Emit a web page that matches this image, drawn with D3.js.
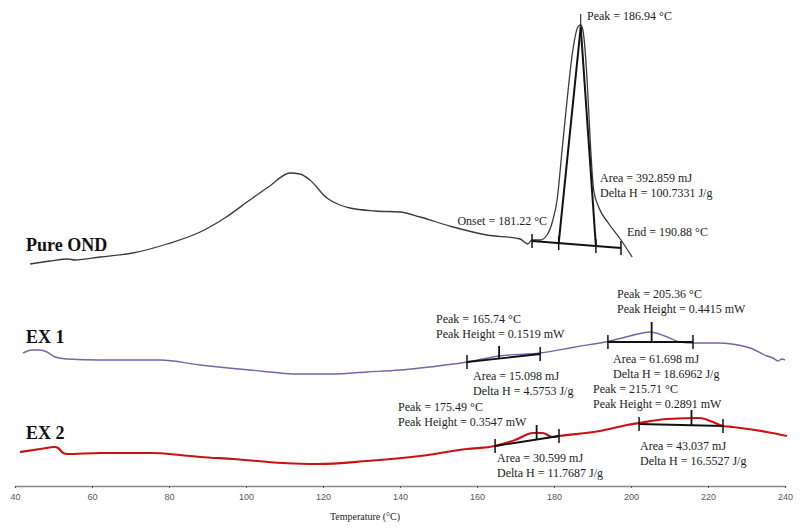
<!DOCTYPE html>
<html>
<head>
<meta charset="utf-8">
<script src="https://cdn.jsdelivr.net/npm/d3@7"></script>
<style>
  body { margin: 0; background: #fff; }
  svg { display: block; }
  .ann { font-family: "Liberation Serif", "DejaVu Serif", serif; font-size: 12px; fill: #222; }
  .name { font-family: "Liberation Serif", serif; font-size: 18px; font-weight: bold; fill: #111; }
</style>
</head>
<body>
<svg id="dsc" width="800" height="528"></svg>
<script>
var width = 800, height = 528;

// temperature (degC) and heat flow (offset, a.u.)
var ondT = [43.9, 49.1, 53.8, 55.6, 62.1, 70.6, 79.5, 88.1, 94.5, 101.0, 106.2, 111.4, 114.0, 116.6, 121.0, 124.4, 127.0, 133.5, 140.0, 145.2, 153.8, 162.6, 171.2, 173.2, 174.3, 176.4, 178.2, 179.7, 180.8, 182.1, 183.4, 184.9, 186.2, 186.9, 187.5, 188.6, 189.4, 190.3, 191.6, 194.1, 197.4, 200.3];
var ondV = [22.2, 22.5, 22.7, 22.6, 22.9, 23.3, 24.2, 25.4, 26.8, 28.6, 30.0, 31.3, 31.2, 30.6, 28.8, 28.1, 27.8, 27.5, 27.4, 26.9, 25.9, 25.1, 24.7, 24.2, 24.6, 24.6, 25.1, 26.6, 28.6, 33.6, 38.6, 43.6, 45.9, 46.1, 45.6, 40.6, 34.6, 29.6, 27.9, 26.3, 24.6, 22.9];

var ex1T = [42.1, 44.4, 46.5, 48.3, 50.4, 53.5, 62.1, 69.9, 77.7, 88.1, 101.0, 114.0, 122.6, 131.4, 140.0, 145.2, 157.4, 165.7, 176.4, 185.5, 194.5, 199.7, 204.9, 208.8, 212.7, 216.1, 222.3, 230.9, 235.3, 236.9, 238.2, 239.2, 240.0];
var ex1V = [13.3, 13.6, 13.6, 13.4, 12.9, 12.7, 12.6, 12.6, 12.6, 12.1, 11.6, 11.2, 11.2, 11.4, 11.6, 11.8, 12.4, 13.0, 13.3, 13.9, 14.5, 15.0, 15.4, 15.0, 14.4, 14.3, 14.3, 13.8, 13.0, 12.8, 12.5, 12.7, 12.6];

var ex2T = [41.3, 46.5, 50.4, 51.2, 52.5, 53.5, 62.1, 75.1, 82.9, 88.1, 96.6, 109.6, 118.4, 131.4, 145.2, 157.4, 164.7, 169.9, 174.5, 177.1, 179.5, 181.3, 191.9, 199.0, 202.1, 209.4, 217.9, 221.3, 223.9, 226.5, 235.3, 240.5];
var ex2V = [3.4, 3.7, 3.9, 3.8, 3.3, 3.2, 3.3, 3.3, 3.1, 2.9, 2.7, 2.3, 2.2, 2.5, 3.0, 3.7, 4.0, 4.6, 5.3, 5.3, 4.9, 5.0, 5.5, 6.1, 6.3, 6.7, 6.8, 6.4, 6.0, 5.9, 5.4, 5.0];

var seriesNames = ["Pure OND", "EX 1", "EX 2"];
var tickValues = [40, 60, 80, 100, 120, 140, 160, 180, 200, 220, 240];

// integration limits [start, end], baseline heat flow at each limit, peak temps
var ondLimits = [174.3, 197.4], ondBase = [24.5, 23.8];
var ondOnset = 181.22, ondPeak = 186.94, ondEnd = 190.88, ondPeakV = 45.9;
var ex1Limits = [[157.4, 176.4], [194.0, 216.1]], ex1Base = [[12.4, 13.2], [14.4, 14.4]];
var ex1Peaks = [165.74, 205.36], ex1PeakTop = [14.0, 16.4];
var ex2Limits = [[164.7, 181.3], [202.1, 223.9]], ex2Base = [[4.0, 5.0], [6.2, 6.0]];
var ex2Peaks = [175.49, 215.71], ex2PeakTop = [6.1, 7.6];

var ondTexts = [["Peak = 186.94 °C"], ["Area = 392.859 mJ", "Delta H = 100.7331 J/g"], ["Onset = 181.22 °C"], ["End = 190.88 °C"]];
var ex1Texts = [["Peak = 165.74 °C", "Peak Height = 0.1519 mW"], ["Area = 15.098 mJ", "Delta H = 4.5753 J/g"],
                ["Peak = 205.36 °C", "Peak Height = 0.4415 mW"], ["Area = 61.698 mJ", "Delta H = 18.6962 J/g"]];
var ex2Texts = [["Peak = 175.49 °C", "Peak Height = 0.3547 mW"], ["Area = 30.599 mJ", "Delta H = 11.7687 J/g"],
                ["Peak = 215.71 °C", "Peak Height = 0.2891 mW"], ["Area = 43.037 mJ", "Delta H = 16.5527 J/g"]];

function draw()
{
    var svg = d3.select("svg"),
        x = d3.scaleLinear().domain([40, 240]).range([15, 785]),
        y = d3.scaleLinear().domain([0, 48.6]).range([486, 0]),
        line = d3.line().curve(d3.curveMonotoneX)
          .x(function(d) { return x(d[0]); }).y(function(d) { return y(d[1]); });

    // axis
    var ax = svg.append("g").attr("transform", "translate(0,486)")
      .call(d3.axisBottom(x).tickValues(tickValues).tickSize(2).tickPadding(6));
    ax.select(".domain").attr("stroke", "#888").attr("stroke-width", 1.4);
    ax.selectAll(".tick line").attr("stroke", "#555");
    ax.selectAll(".tick text").attr("fill", "#555")
      .style("font-family", "'Liberation Sans', Arial, sans-serif").style("font-size", "9px");
    svg.append("text").attr("x", 365).attr("y", 520).attr("text-anchor", "middle")
      .style("font-family", "'Liberation Serif', serif").style("font-size", "10px").attr("fill", "#222")
      .text("Temperature (°C)");

    // traces
    var traces = [
      { t: ondT, v: ondV, color: "#3a3a3a", w: 1.3 },
      { t: ex1T, v: ex1V, color: "#6a6aa8", w: 1.4 },
      { t: ex2T, v: ex2V, color: "#cc1111", w: 2.2 }
    ];
    traces.forEach(function(s) {
      svg.append("path")
        .attr("d", line(d3.zip(s.t, s.v)))
        .attr("fill", "none").attr("stroke", s.color).attr("stroke-width", s.w)
        .attr("stroke-linejoin", "round");
    });

    var ann = svg.append("g").attr("stroke", "#111").attr("stroke-width", 1.5).attr("fill", "none");
    function baseAt(lim, base, t) { return base[0] + (base[1] - base[0]) * (t - lim[0]) / (lim[1] - lim[0]); }
    function tick(t, v) {
      ann.append("line").attr("x1", x(t)).attr("x2", x(t)).attr("y1", y(v) - 7).attr("y2", y(v) + 7);
    }
    function seg(t1, v1, t2, v2, w) {
      ann.append("line").attr("x1", x(t1)).attr("y1", y(v1)).attr("x2", x(t2)).attr("y2", y(v2))
        .attr("stroke-width", w || 1.5);
    }

    // pure OND melting peak
    seg(ondLimits[0], ondBase[0], ondLimits[1], ondBase[1], 2);
    [ondLimits[0], ondOnset, ondEnd, ondLimits[1]].forEach(function(t) { tick(t, baseAt(ondLimits, ondBase, t)); });
    seg(ondOnset, baseAt(ondLimits, ondBase, ondOnset), ondPeak, ondPeakV, 2);
    seg(ondEnd, baseAt(ondLimits, ondBase, ondEnd), ondPeak, ondPeakV, 2);
    seg(ondPeak, ondPeakV, ondPeak, ondPeakV + 1.3, 1);

    // EX peaks
    [[ex1Limits, ex1Base, ex1Peaks, ex1PeakTop], [ex2Limits, ex2Base, ex2Peaks, ex2PeakTop]].forEach(function(g) {
      g[0].forEach(function(lim, i) {
        var b = g[1][i];
        seg(lim[0], b[0], lim[1], b[1], 1.8);
        tick(lim[0], b[0]); tick(lim[1], b[1]);
        seg(g[2][i], baseAt(lim, b, g[2][i]), g[2][i], g[3][i], 1.8);
      });
    });

    // text
    var textPos = [
      [ondTexts, [[587, 20], [600, 182], [547, 225, "end"], [627, 236]]],
      [ex1Texts, [[436, 323], [473, 380], [617, 298], [613, 363]]],
      [ex2Texts, [[398, 411], [497, 462], [593, 393], [640, 450]]]
    ];
    textPos.forEach(function(g) {
      g[0].forEach(function(lines, i) {
        var p = g[1][i];
        var t = svg.append("text").attr("class", "ann").attr("text-anchor", p[2] || "start");
        lines.forEach(function(s, k) {
          t.append("tspan").attr("x", p[0]).attr("y", p[1] + k * 15).text(s);
        });
      });
    });

    var namePos = [[26, 251], [26, 343], [26, 439]];
    seriesNames.forEach(function(n, i) {
      svg.append("text").attr("class", "name").attr("x", namePos[i][0]).attr("y", namePos[i][1]).text(n);
    });
}

draw();
</script>
</body>
</html>
